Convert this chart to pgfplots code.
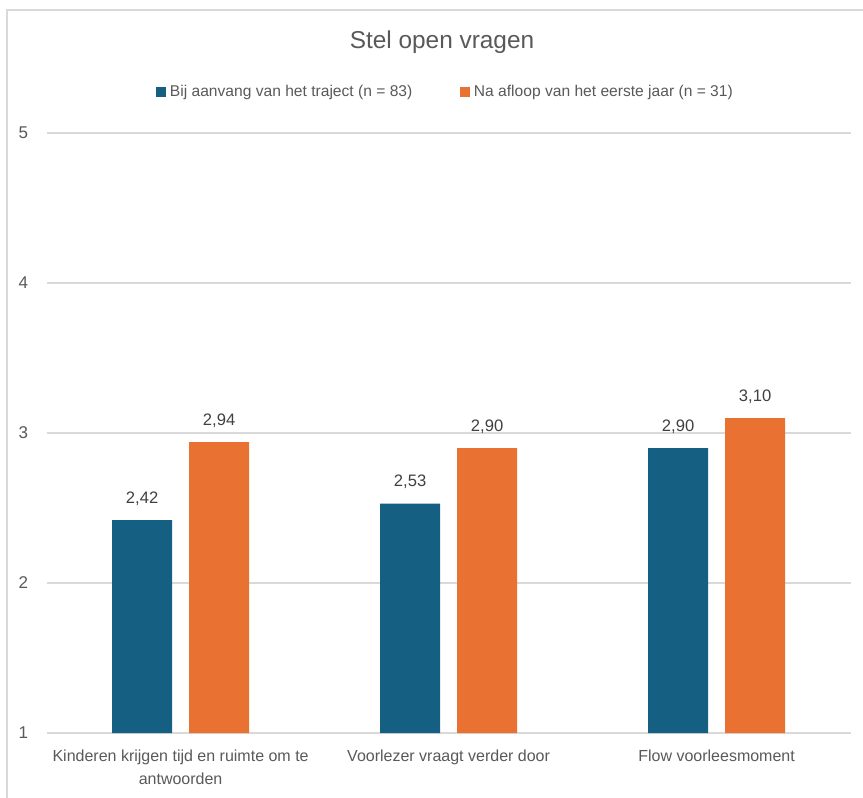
\documentclass[border=0pt]{standalone}
\usepackage{fontspec}
\setmainfont{Liberation Sans}
\usepackage{pgfplots}
\pgfplotsset{compat=1.18}
\definecolor{cblue}{HTML}{156082}
\definecolor{corange}{HTML}{E97132}
\definecolor{txt}{HTML}{595959}
\definecolor{lbl}{HTML}{404040}
\definecolor{gridc}{HTML}{D9D9D9}
\begin{document}
\begin{tikzpicture}
\path[use as bounding box] (0,0) rectangle (431.5pt,-399pt);
\draw[gridc, line width=1pt] (3.5pt,-399pt) -- (3.5pt,-5pt) -- (431.5pt,-5pt);
\node[anchor=base, font=\fontsize{12.2}{14}\selectfont, text=txt] at (221pt,-24pt) {Stel open vragen};
\begin{axis}[
  at={(23.3pt,-366.5pt)}, anchor=south west,
  scale only axis, width=402pt, height=300pt,
  ybar=8.5pt, bar width=30pt,
  ymin=1, ymax=5, ytick={1,2,3,4,5},
  xmin=-0.5, xmax=2.5, xtick={0,1,2},
  xticklabels={{Kinderen krijgen tijd en ruimte om te\\antwoorden},{Voorlezer vraagt verder door},{Flow voorleesmoment}},
  /pgf/number format/assume math mode=true,
  axis x line*=bottom, axis y line*=left,
  y axis line style={draw=none},
  x axis line style={gridc, line width=0.8pt},
  ymajorgrids, grid style={gridc, line width=0.8pt},
  major tick length=0pt, tick style={draw=none},
  yticklabel style={font=\fontsize{8.5}{9}\selectfont, text=txt, inner sep=0pt, xshift=-9pt, anchor=east},
  xticklabel style={font=\fontsize{8}{11.5}\selectfont, text=txt, inner sep=0pt, yshift=-8pt, align=center, anchor=north},
  nodes near coords,
  nodes near coords style={font=\fontsize{8.3}{9}\selectfont, text=lbl, anchor=south, inner sep=0pt, yshift=7pt,
    /pgf/number format/.cd, use comma, fixed, fixed zerofill, precision=2, assume math mode=true},
  legend columns=2,
  legend style={at={(0.4975,1)}, anchor=center, yshift=20.5pt, draw=none, fill=none,
    font=\fontsize{7.8}{9}\selectfont, text=txt,
    /tikz/every even column/.append style={column sep=22pt}},
  legend image code/.code={\fill[#1] (0pt,-2.4pt) rectangle (4.8pt,2.4pt);},
]
\addplot[fill=cblue, draw=none] coordinates {(0,2.42) (1,2.53) (2,2.90)};
\addplot[fill=corange, draw=none] coordinates {(0,2.94) (1,2.90) (2,3.10)};
\legend{Bij aanvang van het traject (n = 83), Na afloop van het eerste jaar (n = 31)}
\end{axis}
\end{tikzpicture}
\end{document}
